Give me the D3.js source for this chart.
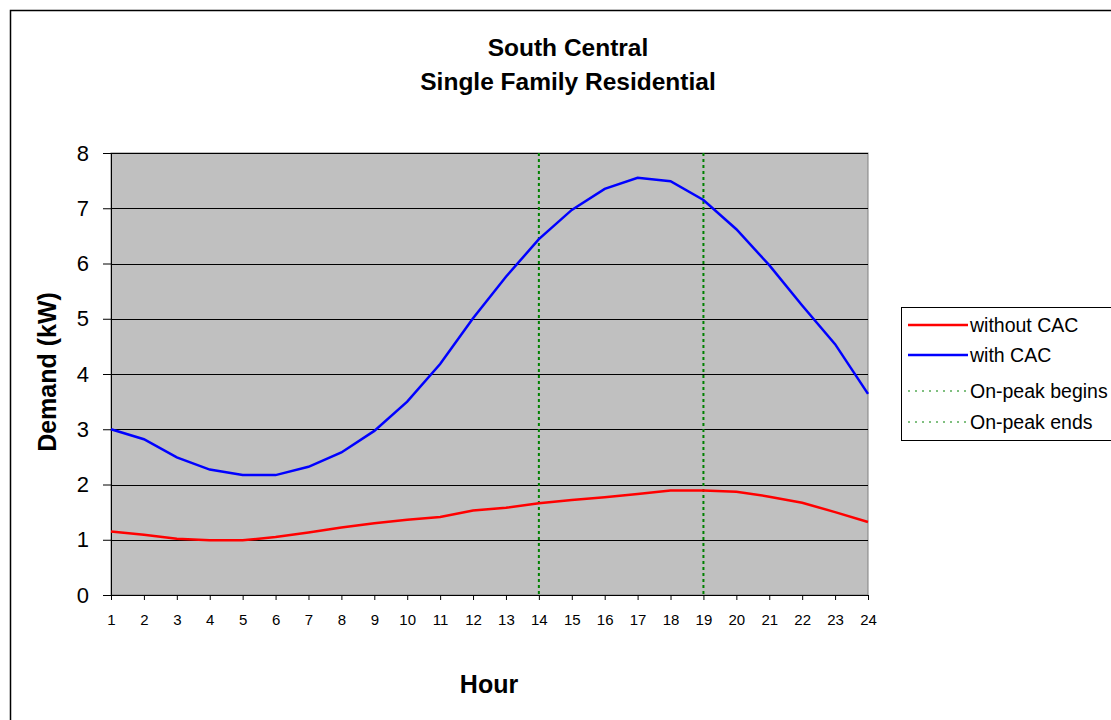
<!DOCTYPE html>
<html lang="en">
<head>
    <meta charset="UTF-8">
    <title>South Central Single Family Residential</title>
    <script src="https://d3js.org/d3.v7.min.js"></script>
    <style>
        body, html { width: 100%; height: 100%; margin: 0; background: #fff; }
        svg { display: block; font-family: "Liberation Sans", Arial, sans-serif; }
        .grid line { stroke: #000; stroke-width: 1; }
        .tick text { fill: #000; }
    </style>
</head>
<body>
<script>
    // Chart data
    const hours = d3.range(1, 25);
    const withoutCAC = [1.15, 1.09, 1.02, 0.99, 0.99, 1.05, 1.13, 1.22, 1.30, 1.36, 1.41, 1.53,
                        1.58, 1.66, 1.72, 1.77, 1.83, 1.89, 1.89, 1.87, 1.78, 1.67, 1.50, 1.32];
    const withCAC = [3.00, 2.82, 2.49, 2.27, 2.17, 2.17, 2.32, 2.58, 2.97, 3.50, 4.18, 5.01,
                     5.76, 6.44, 6.97, 7.35, 7.55, 7.49, 7.15, 6.62, 5.97, 5.24, 4.54, 3.64];
    const peakHours = [14, 19];
    const yTicks = [0, 1, 2, 3, 4, 5, 6, 7, 8];
    const seriesNames = ["without CAC", "with CAC", "On-peak begins", "On-peak ends"];

    const width = 1111, height = 720;
    const plot = { left: 111, right: 868, top: 153, bottom: 595 };

    const svg = d3.select("body").append("svg")
        .attr("width", width)
        .attr("height", height);

    // outer chart border
    svg.append("rect")
        .attr("x", 10.5).attr("y", 10.5)
        .attr("width", width).attr("height", height)
        .attr("fill", "#fff")
        .attr("stroke", "#000")
        .attr("stroke-width", 1.5);

    const x = d3.scalePoint().domain(hours).range([plot.left, plot.right]);
    const y = d3.scaleLinear().domain([0, 8]).range([plot.bottom, plot.top]);

    // plot area
    svg.append("rect")
        .attr("x", plot.left).attr("y", plot.top)
        .attr("width", plot.right - plot.left)
        .attr("height", plot.bottom - plot.top)
        .attr("fill", "#c0c0c0")
        .attr("stroke", "#808080")
        .attr("stroke-width", 1);

    // horizontal gridlines
    svg.append("g")
        .attr("class", "grid")
        .selectAll("line")
        .data(yTicks.filter(d => d > 0))
        .join("line")
        .attr("x1", plot.left).attr("x2", plot.right)
        .attr("y1", d => Math.round(y(d)) + 0.5)
        .attr("y2", d => Math.round(y(d)) + 0.5);

    // y axis
    const yAxis = svg.append("g")
        .attr("transform", `translate(${plot.left},0)`)
        .call(d3.axisLeft(y).tickValues(yTicks).tickSize(8).tickPadding(14).tickFormat(d3.format("d")));
    yAxis.selectAll("text").attr("font-size", 22).attr("font-family", "Liberation Sans, Arial");
    yAxis.selectAll("line, path").attr("stroke", "#000");

    // x axis
    const xAxis = svg.append("g")
        .attr("transform", `translate(0,${plot.bottom})`)
        .call(d3.axisBottom(x).tickSize(5).tickPadding(14).tickSizeOuter(0));
    xAxis.selectAll("text").attr("font-size", 15).attr("font-family", "Liberation Sans, Arial");
    xAxis.selectAll("line, path").attr("stroke", "#000");

    // on-peak markers
    svg.append("g")
        .selectAll("line")
        .data(peakHours)
        .join("line")
        .attr("x1", d => x(d)).attr("x2", d => x(d))
        .attr("y1", plot.top).attr("y2", plot.bottom)
        .attr("stroke", "#008000")
        .attr("stroke-width", 2)
        .attr("stroke-dasharray", "3,3");

    const line = d3.line()
        .x((d, i) => x(hours[i]))
        .y(d => y(d));

    svg.append("path")
        .datum(withoutCAC)
        .attr("d", line)
        .attr("fill", "none")
        .attr("stroke", "#ff0000")
        .attr("stroke-width", 2.5);

    svg.append("path")
        .datum(withCAC)
        .attr("d", line)
        .attr("fill", "none")
        .attr("stroke", "#0000ff")
        .attr("stroke-width", 2.5);

    // titles
    svg.append("text")
        .attr("x", 568).attr("y", 56)
        .attr("text-anchor", "middle")
        .attr("font-size", 24.5).attr("font-weight", "bold")
        .text("South Central");
    svg.append("text")
        .attr("x", 568).attr("y", 90)
        .attr("text-anchor", "middle")
        .attr("font-size", 24.5).attr("font-weight", "bold")
        .text("Single Family Residential");

    svg.append("text")
        .attr("x", 489).attr("y", 693)
        .attr("text-anchor", "middle")
        .attr("font-size", 25).attr("font-weight", "bold")
        .text("Hour");

    svg.append("text")
        .attr("transform", "translate(56,372) rotate(-90)")
        .attr("text-anchor", "middle")
        .attr("font-size", 25).attr("font-weight", "bold")
        .text("Demand (kW)");

    // legend
    const legend = svg.append("g").attr("transform", "translate(901,307)");
    legend.append("rect")
        .attr("x", 0.5).attr("y", 0.5)
        .attr("width", 230).attr("height", 133)
        .attr("fill", "#fff")
        .attr("stroke", "#000");

    const legendStyles = [
        { color: "#ff0000", width: 2.5, dash: null },
        { color: "#0000ff", width: 2.5, dash: null },
        { color: "#008000", width: 1, dash: "2,5" },
        { color: "#008000", width: 1, dash: "2,5" }
    ];
    const rowY = [18, 48, 84, 115];

    seriesNames.forEach((name, i) => {
        const row = legend.append("g").attr("transform", `translate(0,${rowY[i]})`);
        row.append("line")
            .attr("x1", 7).attr("x2", 67)
            .attr("y1", 0).attr("y2", 0)
            .attr("stroke", legendStyles[i].color)
            .attr("stroke-width", legendStyles[i].width)
            .attr("stroke-dasharray", legendStyles[i].dash);
        row.append("text")
            .attr("x", 69).attr("y", 7)
            .attr("font-size", 19.5)
            .text(name);
    });
</script>
</body>
</html>
